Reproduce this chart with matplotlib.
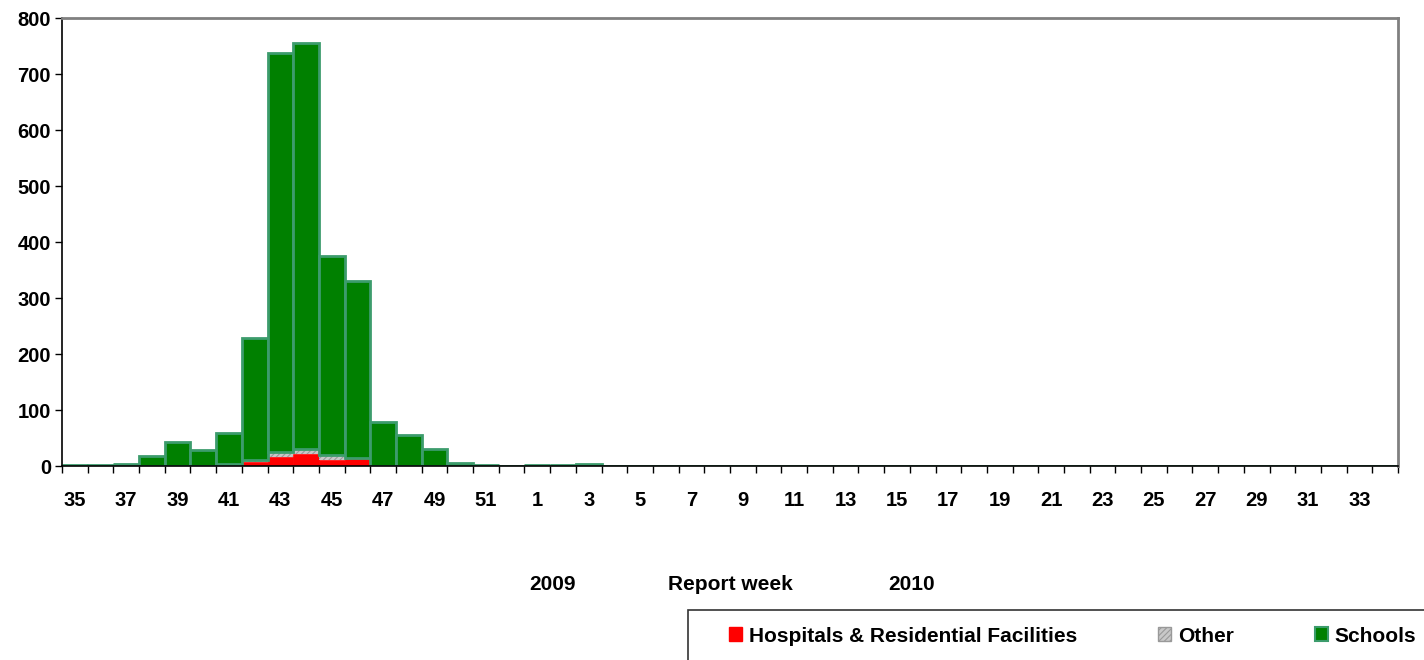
import matplotlib
matplotlib.use("Agg")
import matplotlib.pyplot as plt
from matplotlib.patches import Rectangle, Patch
import numpy as np

plt.rcParams['font.family'] = ['Liberation Sans', 'DejaVu Sans']
plt.rcParams['font.weight'] = 'bold'
plt.rcParams['hatch.linewidth'] = 0.8

weeks = list(range(35, 53)) + list(range(1, 35))
tick_labels = [str(w) if w % 2 == 1 else "" for w in weeks]

hospitals = [1, 0, 0, 0, 0, 0, 0, 8, 16, 21, 10, 12, 0, 0, 0, 0, 1, 0,
             0, 0, 0] + [0] * 31
other = [0, 0, 3, 0, 0, 0, 3, 3, 9, 9, 10, 2, 0, 0, 0, 0, 0, 0,
         1, 1, 0] + [0] * 31
schools = [0, 2, 0, 17, 42, 29, 56, 217, 713, 726, 355, 317, 79, 55, 30, 5, 0, 0,
           0, 0, 4] + [0] * 31

fig = plt.figure(figsize=(14.24, 6.6), dpi=100)
ax = fig.add_axes([62/1424, 1-466/660, (1398-62)/1424, (466-18)/660])

x = np.arange(len(weeks))
h = np.array(hospitals)
o = np.array(other)
s = np.array(schools)

ax.bar(x, h, width=1.0, color='#FF0000', edgecolor='#FF0000', linewidth=0.5)
ax.bar(x, o, width=1.0, bottom=h, color='#C8C8C8', edgecolor='#999999',
       linewidth=0, hatch='//////')
ax.bar(x, s, width=1.0, bottom=h + o, color='#008000', edgecolor='#3C9C6C',
       linewidth=2.0)

ax.set_xlim(-0.5, len(weeks) - 0.5)
ax.set_ylim(0, 800)
ax.set_yticks(range(0, 801, 100))
ax.tick_params(axis='y', labelsize=14.5, direction='out', length=5, width=1, pad=3)

ax.set_xticks(np.arange(len(weeks) + 1) - 0.5)
ax.set_xticklabels([])
ax.tick_params(axis='x', which='major', direction='out', length=5, width=1)
ax.set_xticks(x, minor=True)
ax.set_xticklabels(tick_labels, minor=True)
ax.tick_params(axis='x', which='minor', length=0, labelsize=14.5, pad=18)

for lbl in ax.get_xticklabels(minor=True) + ax.get_yticklabels():
    lbl.set_fontweight('bold')

ax.spines['left'].set_color('black')
ax.spines['bottom'].set_color('black')
ax.spines['left'].set_linewidth(1.2)
ax.spines['bottom'].set_linewidth(1.2)
ax.spines['top'].set_color('#808080')
ax.spines['right'].set_color('#808080')
ax.spines['top'].set_linewidth(2)
ax.spines['right'].set_linewidth(2)

fig.text(552/1424, 1-585/660, "2009", ha='center', va='center', fontsize=15, fontweight='bold')
fig.text(730/1424, 1-585/660, "Report week", ha='center', va='center', fontsize=15, fontweight='bold')
fig.text(912/1424, 1-585/660, "2010", ha='center', va='center', fontsize=15, fontweight='bold')

fig.patches.append(Rectangle((688/1424, -0.05), 0.6, 1-610/660 + 0.05,
                             transform=fig.transFigure, facecolor='white',
                             edgecolor='#333333', linewidth=1.2))

handles = [Patch(facecolor='#FF0000', edgecolor='#FF0000'),
           Patch(facecolor='#C8C8C8', edgecolor='#999999', hatch='//////'),
           Patch(facecolor='#008000', edgecolor='#3C9C6C', linewidth=1.5)]
labels = ['Hospitals & Residential Facilities', 'Other', 'Schools']
leg = fig.legend(handles, labels, loc='center left',
                 bbox_to_anchor=(710/1424, 1-636/660), ncol=3, frameon=False,
                 handlelength=0.62, handleheight=0.62,
                 handletextpad=0.33, columnspacing=3.9,
                 prop={'weight': 'bold', 'size': 15})

fig.savefig("out.png", dpi=100)
